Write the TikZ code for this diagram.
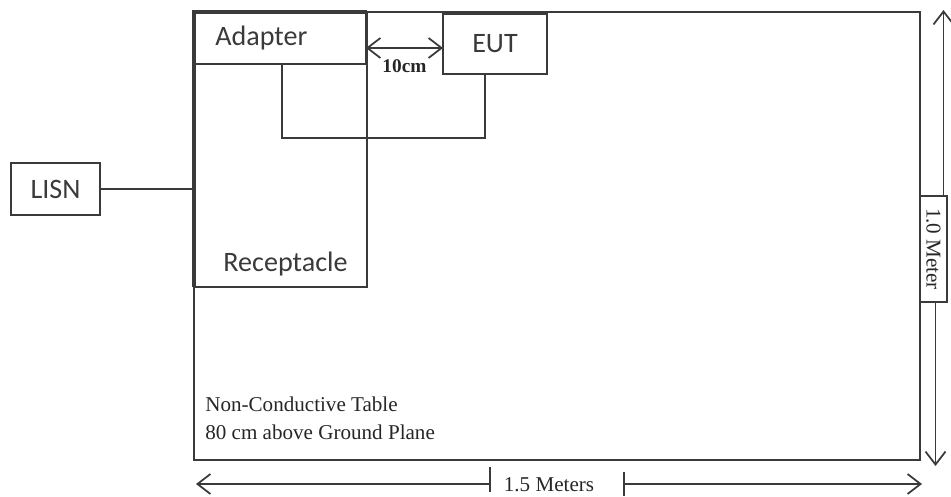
\documentclass[tikz,border=0pt]{standalone}
\usepackage{fontspec}
\setmainfont{Liberation Serif}
\setsansfont{Carlito}
\usetikzlibrary{arrows.meta, calc}
\definecolor{linegray}{HTML}{3a3a3a}
\tikzset{
  box/.style={draw=linegray, line width=1pt, inner sep=0pt, outer sep=0pt},
  cable/.style={line width=1pt, color=linegray},
  dimarrow/.style={-{Straight Barb[length=2.6mm, width=4mm]}, line width=1pt, color=linegray},
  twoway/.style={{Straight Barb[length=2.6mm, width=4mm]}-{Straight Barb[length=2.6mm, width=4mm]}, line width=1pt, color=linegray},
  tick/.style={line width=1pt, color=linegray},
  lbl/.style={font=\sffamily\fontsize{16}{19}\selectfont, text=linegray},
  note/.style={font=\fontsize{12}{16}\selectfont, text=black!85, align=left, inner sep=0pt}
}

\begin{document}
\begin{tikzpicture}[x=0.02cm, y=-0.02cm]
\useasboundingbox (0,0) rectangle (951,497);
% table and boxes
\node[box, anchor=north west, minimum width=14.52cm, minimum height=8.96cm] (table) at (194,12) {};
\node[box, anchor=north west, minimum width=3.46cm, minimum height=5.5cm] (receptacle) at (194,12) {};
\draw[line width=2pt, linegray] (receptacle.south west) -- (receptacle.north west) -- (receptacle.north east);
\node[box, anchor=north west, minimum width=3.44cm, minimum height=1.04cm] (adapter) at (194,12) {};
\node[box, anchor=north west, minimum width=2.08cm, minimum height=1.2cm, lbl] (eut) at (443,14) {EUT};
\node[box, anchor=north west, minimum width=1.78cm, minimum height=1.04cm, lbl] (lisn) at (11,163) {LISN};
\node[lbl, anchor=west, inner sep=0pt] (adaptertxt) at ($(adapter.west)+(21,0)$) {Adapter};
\node[lbl, inner sep=0pt] (receptacletxt) at ($(receptacle.south)+(5,-23)$) {Receptacle};
\node[note, anchor=south west] (tabletxt) at ($(table.south west)+(11,-20)$) {Non-Conductive Table\\80 cm above Ground Plane};
% cables
\draw[cable] ($(adapter.south west)+(88,0)$) -- ++(0,74) -| ($(eut.south)+(-10,0)$);
\draw[cable] (lisn.east) -- (lisn.east -| table.west);
% 10cm spacing
\draw[twoway] ($(adapter.east)+(0,10)$) coordinate (gapl) -- (gapl -| eut.west) node[midway, below=5pt, font=\bfseries\fontsize{11}{13}\selectfont, text=black!85, inner sep=1pt] (gaptxt) {10cm};
% width of table
\coordinate (wl) at (490,484);
\coordinate (wr) at (624,484);
\node[font=\fontsize{12}{14}\selectfont, text=black!85] (widthtxt) at (549,485) {1.5 Meters};
\draw[dimarrow] (wl) -- (196,484);
\draw[dimarrow] (wr) -- (922,484);
\draw[tick] ($(wl)+(0,-17)$) -- ($(wl)+(0,8)$);
\draw[tick] ($(wr)+(0,-12)$) -- ($(wr)+(0,12)$);
% depth of table
\node[box, rotate=-90, minimum width=2.12cm, minimum height=0.54cm, font=\fontsize{12}{14}\selectfont, text=black!85] (depthtxt) at (933.5,249) {1.0 Meter};
\draw[dimarrow] ($(depthtxt.west)+(10,0)$) -- ++(0,-186);
\draw[dimarrow] ($(depthtxt.east)+(2,0)$) -- ++(0,164);
\end{tikzpicture}
\end{document}
